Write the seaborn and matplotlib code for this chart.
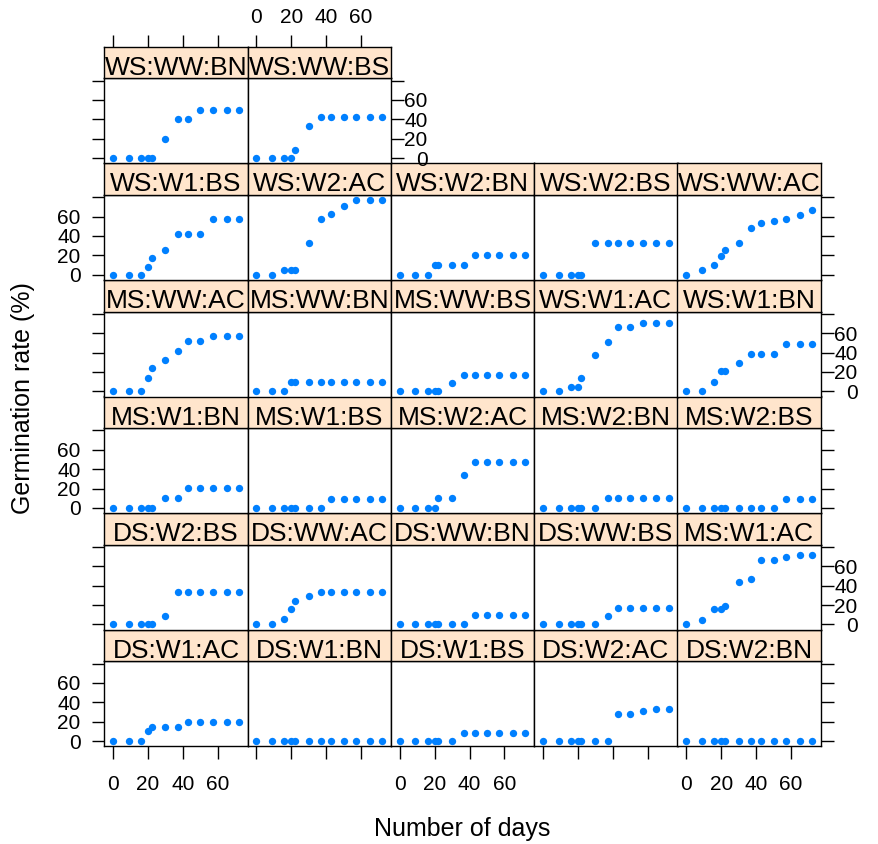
import matplotlib
matplotlib.use('Agg')
import matplotlib.pyplot as plt
import seaborn as sns
import pandas as pd
import numpy as np

# sampling days (same for every panel)
days = [0, 9, 16, 20, 22, 30, 37, 43, 50, 57, 65, 72]

# germination rate (%) per treatment
ds_w1_ac = [0, 0, 0, 10, 15, 15, 15, 20, 20, 20, 20, 20]
ds_w1_bn = [0, 0, 0, 0, 0, 0, 0, 0, 0, 0, 0, 0]
ds_w1_bs = [0, 0, 0, 0, 0, 0, 8, 8, 8, 8, 8, 8]
ds_w2_ac = [0, 0, 0, 0, 0, 0, 0, 28, 28, 31, 33, 33]
ds_w2_bn = [0, 0, 0, 0, 0, 0, 0, 0, 0, 0, 0, 0]
ds_w2_bs = [0, 0, 0, 0, 0, 9, 34, 34, 34, 34, 34, 34]
ds_ww_ac = [0, 0, 6, 16, 24, 29, 34, 34, 34, 34, 34, 34]
ds_ww_bn = [0, 0, 0, 0, 0, 0, 0, 10, 10, 10, 10, 10]
ds_ww_bs = [0, 0, 0, 0, 0, 0, 9, 17, 17, 17, 17, 17]
ms_w1_ac = [0, 5, 16, 16, 19, 44, 47, 67, 67, 70, 72, 72]
ms_w1_bn = [0, 0, 0, 0, 0, 10, 10, 21, 21, 21, 21, 21]
ms_w1_bs = [0, 0, 0, 0, 0, 0, 0, 9, 9, 9, 9, 9]
ms_w2_ac = [0, 0, 0, 0, 10, 10, 34, 47, 47, 47, 47, 47]
ms_w2_bn = [0, 0, 0, 0, 0, 0, 10, 10, 10, 10, 10, 10]
ms_w2_bs = [0, 0, 0, 0, 0, 0, 0, 0, 0, 9, 9, 9]
ms_ww_ac = [0, 0, 0, 14, 24, 32, 42, 52, 52, 57, 57, 57]
ms_ww_bn = [0, 0, 0, 10, 10, 10, 10, 10, 10, 10, 10, 10]
ms_ww_bs = [0, 0, 0, 0, 0, 9, 17, 17, 17, 17, 17, 17]
ws_w1_ac = [0, 0, 4, 4, 14, 37, 51, 66, 66, 71, 71, 71]
ws_w1_bn = [0, 0, 10, 21, 21, 29, 39, 39, 39, 49, 49, 49]
ws_w1_bs = [0, 0, 0, 8, 17, 25, 42, 42, 42, 58, 58, 58]
ws_w2_ac = [0, 0, 5, 5, 5, 33, 57, 63, 71, 77, 77, 77]
ws_w2_bn = [0, 0, 0, 10, 10, 10, 10, 20, 20, 20, 20, 20]
ws_w2_bs = [0, 0, 0, 0, 0, 33, 33, 33, 33, 33, 33, 33]
ws_ww_ac = [0, 5, 10, 19, 25, 33, 48, 53, 55, 57, 62, 67]
ws_ww_bn = [0, 0, 0, 0, 0, 20, 40, 40, 50, 50, 50, 50]
ws_ww_bs = [0, 0, 0, 0, 8, 33, 42, 42, 42, 42, 42, 42]

panels = [
    ("DS:W1:AC", ds_w1_ac), ("DS:W1:BN", ds_w1_bn), ("DS:W1:BS", ds_w1_bs),
    ("DS:W2:AC", ds_w2_ac), ("DS:W2:BN", ds_w2_bn), ("DS:W2:BS", ds_w2_bs),
    ("DS:WW:AC", ds_ww_ac), ("DS:WW:BN", ds_ww_bn), ("DS:WW:BS", ds_ww_bs),
    ("MS:W1:AC", ms_w1_ac), ("MS:W1:BN", ms_w1_bn), ("MS:W1:BS", ms_w1_bs),
    ("MS:W2:AC", ms_w2_ac), ("MS:W2:BN", ms_w2_bn), ("MS:W2:BS", ms_w2_bs),
    ("MS:WW:AC", ms_ww_ac), ("MS:WW:BN", ms_ww_bn), ("MS:WW:BS", ms_ww_bs),
    ("WS:W1:AC", ws_w1_ac), ("WS:W1:BN", ws_w1_bn), ("WS:W1:BS", ws_w1_bs),
    ("WS:W2:AC", ws_w2_ac), ("WS:W2:BN", ws_w2_bn), ("WS:W2:BS", ws_w2_bs),
    ("WS:WW:AC", ws_ww_ac), ("WS:WW:BN", ws_ww_bn), ("WS:WW:BS", ws_ww_bs),
]

x_ticks = [0, 20, 40, 60]
y_ticks = [0, 20, 40, 60, 80]
y_ticklabels = ["0", "20", "40", "60", ""]

sns.set_style("white")
plt.rcParams['font.family'] = ['Liberation Sans', 'DejaVu Sans']
plt.rcParams.update({"text.color": "black", "xtick.color": "black",
                     "ytick.color": "black", "axes.labelcolor": "black"})

W, H = 879, 844
fig = plt.figure(figsize=(W / 100, H / 100), dpi=100)

# lattice-like padding of the shared scales
ymax = max(max(v) for _, v in panels)
xlim = (-0.07 * max(days), max(days) * 1.07)
ylim = (-0.07 * ymax, ymax * 1.07)

col_w, pan_h, strip_h, row_step = 143.3, 85.0, 31.6, 116.6
ncol = 5
n_rows = (len(panels) - 1) // ncol + 1
tick_fs = 15

for i, (name, vals) in enumerate(panels):
    r, c = divmod(i, ncol)
    left = 104.3 + c * col_w
    pbot = 746.3 - r * row_step
    ptop = pbot - pan_h
    ax = fig.add_axes([left / W, 1 - pbot / H, col_w / W, pan_h / H])
    sax = fig.add_axes([left / W, 1 - ptop / H, col_w / W, strip_h / H])

    df = pd.DataFrame({"day": days, "rate": vals})
    sns.scatterplot(data=df, x="day", y="rate", ax=ax, color="#0080ff",
                    s=28, linewidth=0, legend=False)
    ax.set_xlim(*xlim)
    ax.set_ylim(*ylim)
    ax.set_xlabel("")
    ax.set_ylabel("")
    for sp in list(ax.spines.values()) + list(sax.spines.values()):
        sp.set_color("black")
        sp.set_linewidth(1.0)

    # strip
    sax.set_facecolor("#ffe5cc")
    sax.set_xlim(*xlim)
    sax.set_yticks([])
    sax.text(0.5, 0.11, name, transform=sax.transAxes, ha="center",
             va="baseline", fontsize=19, color="black")

    ax.tick_params(axis="both", direction="out", length=9, width=1.0,
                   colors="black", labelsize=tick_fs, bottom=False, left=False,
                   top=False, right=False, labelbottom=False, labelleft=False)
    sax.tick_params(axis="x", bottom=False, labelbottom=False, top=False,
                    labeltop=False)

    # x axis: bottom row, alternating labels
    ax.set_xticks(x_ticks)
    if r == 0:
        ax.tick_params(axis="x", bottom=True, labelbottom=(c % 2 == 0), pad=12)
    # top axis drawn above the strips of the top row
    sax.set_xticks(x_ticks)
    if r == n_rows - 1:
        sax.tick_params(axis="x", direction="out", length=9, width=1.0,
                        colors="black", labelsize=tick_fs, top=True,
                        labeltop=(c % 2 == 1), pad=5)

    ax.set_yticks(y_ticks)
    ax.set_yticklabels(y_ticklabels)
    if c == 0:
        ax.tick_params(axis="y", left=True, labelleft=(r % 2 == 0), pad=8)
    if c == ncol - 1 or i == len(panels) - 1:
        ax.tick_params(axis="y", right=True, labelright=(r % 2 == 1), pad=17.5)
        if r % 2 == 1:
            plt.setp(ax.yaxis.get_ticklabels(), ha="right")

fig.text(462 / W, 1 - 829 / H, "Number of days", ha="center", va="center",
         fontsize=18, color="black")
fig.text(23 / W, 1 - 398 / H, "Germination rate (%)", ha="center",
         va="center", rotation=90, fontsize=18, color="black")

fig.savefig("out.png", dpi=100)
